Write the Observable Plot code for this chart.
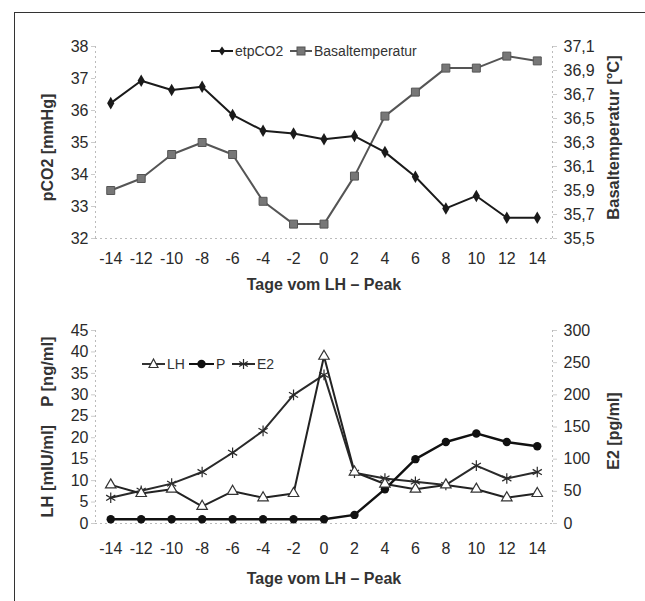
<!DOCTYPE html>
<html><head><meta charset="utf-8">
<script src="https://cdn.jsdelivr.net/npm/d3@7"></script>
<script src="https://cdn.jsdelivr.net/npm/@observablehq/plot@0.6"></script>
<style>
body{margin:0;background:#fff;}
#chart{position:relative;width:645px;height:601px;font-family:"Liberation Sans",Arial,sans-serif;overflow:hidden;background:#fff}
#frame{position:absolute;left:14px;top:12px;width:640px;height:600px;border-top:1.5px solid #333;border-left:1.5px solid #333}
.panel{position:absolute;left:0}
.legend{position:absolute;left:0;top:0}
</style></head><body><div id="chart"><div id="frame"></div></div>
<script>
// ---- data ----
const days = [-14,-12,-10,-8,-6,-4,-2,0,2,4,6,8,10,12,14];
const etpCO2 = [36.23,36.93,36.64,36.74,35.86,35.37,35.28,35.10,35.20,34.70,33.93,32.94,33.33,32.65,32.65];
const basaltemperatur = [35.9,36.0,36.2,36.3,36.2,35.81,35.62,35.62,36.02,36.52,36.72,36.92,36.92,37.02,36.98];
const LH = [9,7,8,4,7.5,6,7,39,12,9.2,8,9,8,6,7];
const P = [1,1,1,1,1,1,1,1,2,8,15,19,21,19,18];
const E2 = [40,51,62,80,110,144,200,231,79,70,65,60,90,70,80];
const co2Ticks = [32,33,34,35,36,37,38];
const tempTicks = [35.5,35.7,35.9,36.1,36.3,36.5,36.7,36.9,37.1];
const leftTicks2 = [0,5,10,15,20,25,30,35,40,45];
const e2Ticks = [0,50,100,150,200,250,300];
const xTitle = "Tage vom LH \u2013 Peak";

const FONT = '"Liberation Sans", Arial, sans-serif';
const TICK_FS = 16;
const chart = document.getElementById("chart");

// ---- top panel ----
const pMin = 32, pMax = 38, tMin = 35.5, tMax = 37.1;
const toP = t => pMin + (t - tMin) / (tMax - tMin) * (pMax - pMin);
const fromP = p => tMin + (p - pMin) / (pMax - pMin) * (tMax - tMin);
const topData = days.map((d, i) => ({day: d, co2: etpCO2[i], tempP: toP(basaltemperatur[i])}));

const topPlot = Plot.plot({
  width: 645, height: 300,
  marginLeft: 95, marginRight: 93, marginTop: 46, marginBottom: 62,
  style: {fontFamily: FONT, fontSize: "15px", color: "#333", background: "transparent", overflow: "visible"},
  x: {domain: [-15, 15]},
  y: {domain: [pMin, pMax]},
  marks: [
    Plot.ruleX([-15, 15], {stroke: "#bbb", strokeDasharray: "2,3"}),
    Plot.ruleY([pMin], {stroke: "#bbb", strokeDasharray: "2,3"}),
    Plot.axisX({ticks: days, tickFormat: d => String(d), tickSize: 0, tickPadding: 14, fontSize: TICK_FS, fill: "#2a2a2a", label: null}),
    Plot.axisY({ticks: co2Ticks, tickFormat: d => String(d), tickSize: 4, tickPadding: 3, stroke: "#ccc", fill: "#2a2a2a", fontSize: TICK_FS, label: null}),
    Plot.axisY({anchor: "right", ticks: tempTicks.map(toP), tickFormat: p => fromP(p).toFixed(1).replace(".", ","), tickSize: 4, tickPadding: 7, stroke: "#ccc", fill: "#2a2a2a", fontSize: TICK_FS, label: null}),
    Plot.line(topData, {x: "day", y: "tempP", stroke: "#555", strokeWidth: 2}),
    Plot.dot(topData, {x: "day", y: "tempP", symbol: "square", r: 4.5, fill: "#777", stroke: "#555", strokeWidth: 1}),
    Plot.line(topData, {x: "day", y: "co2", stroke: "#1a1a1a", strokeWidth: 2}),
    Plot.dot(topData, {x: "day", y: "co2", symbol: "diamond", r: 3.8, fill: "#1a1a1a"}),
    Plot.text([xTitle], {text: d => d, frameAnchor: "bottom", lineAnchor: "middle", dy: 46, fontWeight: "bold", fontSize: 16, fill: "#333"}),
    Plot.text(["pCO2 [mmHg]"], {text: d => d, frameAnchor: "left", textAnchor: "middle", lineAnchor: "middle", rotate: -90, dx: -48, dy: 5, fontWeight: "bold", fontSize: 16, fill: "#333"}),
    Plot.text(["Basaltemperatur [\u00b0C]"], {text: d => d, frameAnchor: "right", textAnchor: "middle", lineAnchor: "middle", rotate: -90, dx: 61, dy: -5, fontWeight: "bold", fontSize: 16.5, fill: "#333"})
  ]
});
topPlot.classList.add("panel");
topPlot.style.top = "0px";
chart.appendChild(topPlot);

// ---- bottom panel ----
const lMax = 45, eMax = 300;
const eToL = e => e * lMax / eMax;
const lToE = l => l * eMax / lMax;
const botData = days.map((d, i) => ({day: d, lh: LH[i], p: P[i], e2L: eToL(E2[i])}));

const botPlot = Plot.plot({
  width: 645, height: 301,
  marginLeft: 95, marginRight: 93, marginTop: 30, marginBottom: 78,
  style: {fontFamily: FONT, fontSize: "15px", color: "#333", background: "transparent", overflow: "visible"},
  x: {domain: [-15, 15]},
  y: {domain: [0, lMax]},
  marks: [
    Plot.ruleX([-15, 15], {stroke: "#bbb", strokeDasharray: "2,3"}),
    Plot.ruleY([0], {stroke: "#bbb", strokeDasharray: "2,3"}),
    Plot.axisX({ticks: days, tickFormat: d => String(d), tickSize: 0, tickPadding: 19, fontSize: TICK_FS, fill: "#2a2a2a", label: null}),
    Plot.axisY({ticks: leftTicks2, tickFormat: d => String(d), tickSize: 4, tickPadding: 3, stroke: "#ccc", fill: "#2a2a2a", fontSize: TICK_FS, label: null}),
    Plot.axisY({anchor: "right", ticks: e2Ticks.map(eToL), tickFormat: l => String(Math.round(lToE(l))), tickSize: 4, tickPadding: 7, stroke: "#ccc", fill: "#2a2a2a", fontSize: TICK_FS, label: null}),
    Plot.line(botData, {x: "day", y: "e2L", stroke: "#2a2a2a", strokeWidth: 2}),
    Plot.dot(botData, {x: "day", y: "e2L", symbol: "asterisk", r: 5, stroke: "#2a2a2a", strokeWidth: 1.2}),
    Plot.line(botData, {x: "day", y: "lh", stroke: "#222", strokeWidth: 2}),
    Plot.line(botData, {x: "day", y: "p", stroke: "#111", strokeWidth: 2.4}),
    Plot.dot(botData, {x: "day", y: "p", symbol: "circle", r: 4.2, fill: "#111"}),
    Plot.dot(botData, {x: "day", y: "lh", symbol: "triangle2", r: 5, fill: "#fff", stroke: "#333", strokeWidth: 1.2}),
    Plot.text([xTitle], {text: d => d, frameAnchor: "bottom", lineAnchor: "middle", dy: 55, fontWeight: "bold", fontSize: 16, fill: "#333"}),
    Plot.text(["LH [mIU/ml]\u00a0\u00a0\u00a0\u00a0P [ng/ml]"], {text: d => d, frameAnchor: "left", textAnchor: "middle", lineAnchor: "middle", rotate: -90, dx: -48, dy: 0, fontWeight: "bold", fontSize: 16.5, fill: "#333"}),
    Plot.text(["E2 [pg/ml]"], {text: d => d, frameAnchor: "right", textAnchor: "middle", lineAnchor: "middle", rotate: -90, dx: 61, dy: 4, fontWeight: "bold", fontSize: 16, fill: "#333"})
  ]
});
botPlot.classList.add("panel");
botPlot.style.top = "300px";
chart.appendChild(botPlot);

// ---- legends (overlay) ----
const NS = "http://www.w3.org/2000/svg";
const leg = document.createElementNS(NS, "svg");
leg.setAttribute("width", 645); leg.setAttribute("height", 601);
leg.setAttribute("class", "legend");
leg.style.fontFamily = FONT;
function el(tag, attrs, text) {
  const e = document.createElementNS(NS, tag);
  for (const k in attrs) e.setAttribute(k, attrs[k]);
  if (text) e.textContent = text;
  leg.appendChild(e);
  return e;
}
function item(x0, x1, y, sym, label, lineColor) {
  el("line", {x1: x0, x2: x1, y1: y, y2: y, stroke: lineColor, "stroke-width": 2});
  const cx = (x0 + x1) / 2;
  if (sym === "diamond") el("path", {d: `M${cx},${y-4.5}L${cx+3.2},${y}L${cx},${y+4.5}L${cx-3.2},${y}Z`, fill: "#1a1a1a"});
  if (sym === "square") el("rect", {x: cx-4, y: y-4, width: 8, height: 8, fill: "#777", stroke: "#555"});
  if (sym === "triangle") el("path", {d: `M${cx},${y-5}L${cx+4.5},${y+3.5}L${cx-4.5},${y+3.5}Z`, fill: "#fff", stroke: "#333", "stroke-width": 1.2});
  if (sym === "circle") el("circle", {cx, cy: y, r: 4.2, fill: "#111"});
  if (sym === "asterisk") {
    for (const a of [0, 60, 120]) {
      const r = a * Math.PI / 180;
      el("line", {x1: cx - 5*Math.sin(r), y1: y - 5*Math.cos(r), x2: cx + 5*Math.sin(r), y2: y + 5*Math.cos(r), stroke: "#2a2a2a", "stroke-width": 1.2});
    }
  }
  el("text", {x: x1 + 2, y: y, "dominant-baseline": "central", "font-size": 14, fill: "#333"}, label);
}
item(211, 233, 51, "diamond", "etpCO2", "#1a1a1a");
item(290, 312, 51, "square", "Basaltemperatur", "#555");
item(142, 165, 364, "triangle", "LH", "#333");
item(189, 214, 364, "circle", "P", "#111");
item(232, 255, 364, "asterisk", "E2", "#2a2a2a");
chart.appendChild(leg);
</script>
</body></html>
